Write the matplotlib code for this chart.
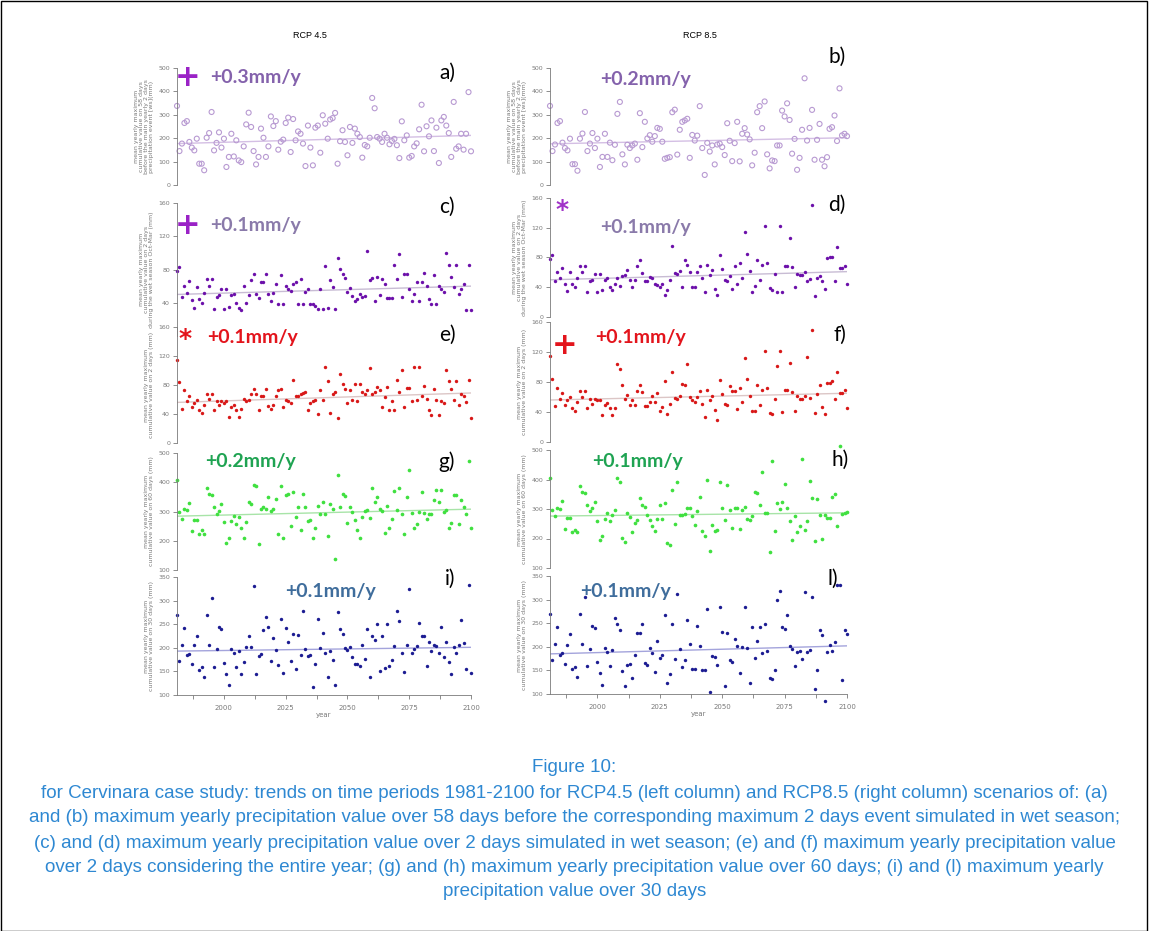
import numpy as np
import matplotlib.pyplot as plt
from matplotlib.patches import Rectangle

# years 1981-2100
years = np.arange(1981, 2101)

# a) RCP4.5 - 58 days before the 2-day maximum
val_a = [338, 145, 177, 265, 273, 184, 160, 148, 198, 91,
         91, 63, 202, 222, 312, 148, 180, 225, 160, 198,
         77, 120, 219, 122, 191, 105, 98, 165, 259, 309,
         248, 145, 88, 120, 241, 202, 120, 165, 293, 252,
         273, 151, 185, 194, 265, 288, 141, 282, 191, 229,
         219, 177, 81, 254, 160, 84, 245, 254, 138, 298,
         262, 198, 280, 286, 308, 91, 187, 234, 184, 127,
         248, 180, 241, 219, 205, 117, 171, 165, 202, 372,
         328, 205, 198, 184, 219, 202, 174, 188, 197, 170,
         115, 272, 191, 212, 117, 124, 165, 178, 238, 343,
         144, 251, 208, 276, 145, 245, 94, 276, 291, 254,
         222, 120, 355, 155, 165, 219, 151, 219, 397, 144]
# b) RCP8.5 - 58 days
val_b = [338, 145, 173, 265, 273, 181, 158, 148, 198, 89,
         89, 61, 198, 220, 312, 145, 177, 222, 158, 198,
         77, 120, 219, 120, 181, 106, 172, 304, 355, 131,
         88, 172, 158, 169, 177, 108, 307, 162, 270, 199,
         213, 185, 209, 244, 240, 185, 112, 116, 119, 311,
         322, 130, 236, 270, 276, 283, 116, 214, 190, 211,
         337, 158, 43, 180, 143, 169, 88, 173, 177, 162,
         128, 264, 189, 102, 179, 270, 101, 219, 243, 216,
         195, 84, 138, 311, 337, 243, 357, 131, 71, 105,
         102, 169, 169, 318, 293, 349, 278, 134, 197, 65,
         116, 236, 456, 190, 244, 321, 108, 193, 261, 108,
         80, 119, 240, 247, 297, 188, 413, 212, 219, 209]
# c) RCP4.5 - 2 days, wet season
val_c = [78, 83, 47, 60, 52, 66, 43, 34, 59, 45,
         40, 52, 68, 60, 68, 33, 47, 49, 56, 33,
         56, 35, 49, 51, 40, 34, 31, 60, 40, 49,
         67, 74, 51, 46, 65, 65, 74, 50, 42, 52,
         63, 38, 73, 38, 60, 56, 54, 63, 65, 38,
         69, 38, 53, 57, 38, 38, 36, 33, 57, 33,
         84, 34, 67, 59, 32, 94, 81, 74, 70, 53,
         58, 48, 42, 45, 50, 47, 48, 102, 67, 70,
         42, 71, 49, 68, 62, 46, 46, 46, 86, 69,
         99, 47, 74, 74, 56, 42, 51, 65, 42, 65,
         76, 60, 45, 38, 73, 38, 60, 56, 53, 100,
         85, 71, 59, 85, 51, 56, 62, 31, 86, 31]
# d) RCP8.5 - 2 days, wet season
val_d = [78, 84, 48, 61, 53, 66, 44, 35, 61, 45,
         41, 53, 69, 61, 68, 33, 49, 50, 58, 33,
         58, 36, 50, 52, 41, 36, 45, 52, 42, 55,
         57, 63, 50, 41, 50, 69, 76, 59, 49, 49,
         54, 53, 45, 43, 41, 45, 29, 36, 50, 95,
         59, 58, 62, 40, 76, 70, 61, 41, 40, 61,
         68, 52, 34, 70, 57, 63, 37, 30, 84, 65,
         50, 49, 55, 38, 68, 44, 72, 52, 114, 85,
         62, 33, 42, 76, 50, 70, 122, 72, 39, 36,
         58, 34, 122, 33, 69, 69, 106, 67, 41, 58,
         57, 57, 61, 48, 51, 151, 28, 52, 55, 48,
         37, 79, 80, 81, 49, 94, 66, 66, 69, 45]
# e) RCP4.5 - 2 days, entire year
val_e = [115, 84, 47, 73, 58, 65, 49, 55, 60, 45,
         42, 53, 68, 61, 68, 46, 58, 52, 58, 55,
         58, 36, 50, 53, 46, 36, 47, 61, 58, 59,
         68, 75, 67, 46, 65, 65, 74, 51, 47, 53,
         65, 73, 75, 49, 60, 58, 55, 87, 65, 65,
         67, 69, 71, 45, 55, 58, 59, 40, 73, 59,
         105, 85, 42, 68, 71, 34, 95, 82, 75, 55,
         73, 60, 82, 58, 82, 70, 68, 73, 103, 68,
         71, 77, 73, 50, 64, 77, 46, 58, 46, 87,
         70, 101, 49, 76, 76, 58, 105, 59, 105, 65,
         78, 61, 45, 38, 75, 60, 38, 58, 55, 101,
         86, 74, 60, 85, 53, 68, 65, 56, 87, 34]
# f) RCP8.5 - 2 days, entire year
val_f = [115, 84, 48, 72, 58, 65, 49, 56, 60, 46,
         41, 53, 68, 60, 68, 46, 58, 51, 57, 56,
         56, 36, 49, 52, 46, 36, 45, 104, 98, 76,
         57, 63, 50, 56, 49, 68, 76, 67, 48, 48,
         53, 62, 53, 65, 41, 47, 81, 38, 51, 93,
         59, 58, 62, 77, 76, 104, 60, 56, 53, 60,
         68, 51, 33, 70, 56, 62, 43, 30, 83, 64,
         51, 49, 75, 68, 68, 44, 72, 53, 112, 84,
         62, 42, 41, 76, 49, 70, 121, 72, 39, 37,
         57, 101, 121, 40, 70, 69, 105, 67, 41, 62,
         57, 57, 61, 114, 59, 149, 39, 64, 76, 47,
         38, 79, 79, 81, 57, 93, 65, 65, 69, 46]
# g) RCP4.5 - 60 days
val_g = [407, 299, 274, 308, 305, 330, 233, 270, 270, 222,
         236, 223, 382, 361, 356, 314, 291, 302, 325, 263,
         194, 211, 267, 285, 257, 280, 244, 211, 263, 333,
         327, 390, 386, 188, 310, 314, 308, 348, 302, 310,
         344, 223, 386, 211, 358, 359, 250, 367, 280, 316,
         236, 361, 316, 267, 270, 208, 244, 318, 293, 333,
         293, 216, 325, 310, 137, 424, 314, 361, 352, 259,
         314, 297, 270, 236, 211, 280, 301, 305, 278, 382,
         333, 350, 310, 301, 227, 318, 245, 276, 370, 305,
         382, 291, 223, 348, 443, 295, 244, 257, 299, 367,
         295, 276, 291, 291, 339, 375, 333, 375, 299, 305,
         244, 261, 358, 356, 257, 339, 316, 293, 473, 244]
# h) RCP8.5 - 60 days
val_h = [404, 297, 275, 305, 301, 328, 232, 271, 271, 222,
         230, 222, 379, 359, 354, 312, 292, 303, 325, 261,
         194, 210, 266, 288, 260, 278, 295, 404, 390, 201,
         188, 288, 272, 221, 252, 263, 337, 314, 308, 280,
         263, 241, 224, 267, 314, 267, 322, 185, 177, 365,
         250, 393, 280, 280, 284, 303, 305, 277, 246, 292,
         340, 227, 209, 399, 159, 246, 227, 230, 390, 303,
         263, 382, 297, 235, 303, 305, 233, 297, 308, 267,
         263, 275, 356, 354, 314, 427, 286, 286, 153, 464,
         227, 322, 301, 323, 385, 305, 260, 196, 275, 222,
         243, 470, 230, 258, 396, 337, 192, 334, 280, 198,
         280, 269, 269, 342, 351, 243, 515, 284, 286, 290]
# i) RCP4.5 - 30 days
val_i = [270, 171, 205, 243, 185, 187, 165, 205, 226, 153,
         159, 138, 270, 206, 305, 160, 197, 245, 240, 167,
         145, 121, 198, 190, 160, 194, 145, 169, 201, 226,
         201, 330, 144, 183, 187, 238, 266, 244, 171, 220,
         196, 164, 261, 147, 243, 212, 173, 229, 155, 227,
         185, 277, 197, 183, 184, 116, 165, 261, 199, 232,
         189, 139, 194, 174, 121, 275, 240, 230, 199, 196,
         201, 180, 166, 166, 162, 206, 176, 240, 138, 226,
         217, 251, 150, 225, 158, 250, 162, 174, 204, 279,
         256, 190, 148, 205, 325, 190, 198, 204, 252, 224,
         224, 162, 213, 194, 206, 203, 190, 244, 181, 212,
         169, 145, 201, 189, 206, 258, 210, 155, 334, 147]
# l) RCP8.5 - 30 days
val_l = [270, 171, 206, 243, 183, 187, 163, 204, 227, 154,
         158, 137, 270, 206, 305, 160, 196, 245, 239, 167,
         144, 120, 197, 189, 160, 194, 261, 248, 236, 148,
         118, 162, 164, 134, 183, 229, 229, 249, 165, 161,
         197, 187, 146, 213, 176, 183, 268, 123, 142, 248,
         174, 312, 195, 158, 171, 257, 206, 154, 154, 244,
         202, 150, 150, 280, 104, 181, 178, 161, 284, 231,
         118, 229, 171, 167, 217, 202, 144, 199, 284, 197,
         123, 243, 177, 213, 243, 187, 249, 192, 134, 132,
         151, 299, 319, 241, 238, 268, 202, 195, 160, 190,
         192, 175, 316, 190, 194, 306, 111, 151, 236, 225,
         85, 188, 204, 192, 211, 331, 331, 130, 236, 227]

# trend line values at 1981 and 2100
trend_years = [1981, 2100]
trend_a = [177, 212]
trend_b = [176, 202]
trend_c = [50, 60]
trend_d = [50, 61]
trend_e = [56, 69]
trend_f = [56, 65]
trend_g = [284, 308]
trend_h = [276, 287]
trend_i = [193, 201]
trend_l = [185, 202]

rates = ["+0.3mm/y", "+0.2mm/y", "+0.1mm/y", "+0.1mm/y", "+0.1mm/y",
         "+0.1mm/y", "+0.2mm/y", "+0.1mm/y", "+0.1mm/y", "+0.1mm/y"]
letters = ["a)", "b)", "c)", "d)", "e)", "f)", "g)", "h)", "i)", "l)"]
signif = ["+", "", "+", "*", "*", "+", "", "", "", ""]

ylab_58 = "mean yearly maximum\ncumulative value on 58 days\nbefore the main yearly 2 days\nprecipitation event [ws](mm)"
ylab_wet = "mean yearly maximum\ncumulative value on 2 days\nduring the wet season Oct-Mar (mm)"
ylab_2 = "mean yearly maximum\ncumulative value on 2 days (mm)"
ylab_60 = "mean yearly maximum\ncumulative value on 60 days (mm)"
ylab_30 = "mean yearly maximum\ncumulative value on 30 days (mm)"

caption = [
    "Figure 10:",
    "for Cervinara case study: trends on time periods 1981-2100 for RCP4.5 (left column) and RCP8.5 (right column) scenarios of: (a)",
    "and (b) maximum yearly precipitation value over 58 days before the corresponding maximum 2 days event simulated in wet season;",
    "(c) and (d) maximum yearly precipitation value over 2 days simulated in wet season; (e) and (f) maximum yearly precipitation value",
    "over 2 days considering the entire year; (g) and (h) maximum yearly precipitation value over 60 days; (i) and (l) maximum yearly",
    "precipitation value over 30 days",
]

W, H = 1149, 931
fig = plt.figure(figsize=(W / 100, H / 100), dpi=100)


def fx(x):
    return x / W


def fy(y):
    return 1 - y / H


# marker styles per row
open_purple = dict(marker='o', s=13, facecolors='none', edgecolors='#b89ad2', linewidths=0.8)
dot_purple = dict(marker='o', s=6, color='#6c10aa', linewidths=0)
dot_red = dict(marker='o', s=6, color='#d81818', linewidths=0)
dot_green = dict(marker='o', s=7, color='#40e040', linewidths=0)
dot_blue = dict(marker='o', s=6, color='#1c1c92', linewidths=0)

# value, trend, (x0, x1, ytop, ybottom) in pixels, ylim, yticks, style, trend colour, ylabel
panels = [
    (val_a, trend_a, (177, 471, 68, 185), (0, 500), [0, 100, 200, 300, 400, 500], open_purple, '#d4bfe4', ylab_58),
    (val_b, trend_b, (550, 847, 68, 185), (0, 500), [0, 100, 200, 300, 400, 500], open_purple, '#d4bfe4', ylab_58),
    (val_c, trend_c, (177, 471, 203, 336), (0, 160), [40, 80, 120, 160], dot_purple, '#c8bcd4', ylab_wet),
    (val_d, trend_d, (550, 847, 198, 317), (0, 160), [0, 40, 80, 120, 160], dot_purple, '#c8bcd4', ylab_wet),
    (val_e, trend_e, (177, 471, 327, 443), (0, 160), [0, 40, 80, 120, 160], dot_red, '#dcc6c6', ylab_2),
    (val_f, trend_f, (550, 847, 322, 442), (0, 160), [0, 40, 80, 120, 160], dot_red, '#dcc6c6', ylab_2),
    (val_g, trend_g, (177, 471, 453, 570), (100, 500), [100, 200, 300, 400, 500], dot_green, '#a8e4a8', ylab_60),
    (val_h, trend_h, (550, 847, 450, 568), (100, 500), [100, 200, 300, 400, 500], dot_green, '#a8e4a8', ylab_60),
    (val_i, trend_i, (177, 471, 577, 695), (100, 350), [100, 150, 200, 250, 300, 350], dot_blue, '#a4a4dc', ylab_30),
    (val_l, trend_l, (550, 847, 576, 694), (100, 350), [100, 150, 200, 250, 300, 350], dot_blue, '#a4a4dc', ylab_30),
]

gray = '#7a7a7a'
for k, (vals, trend, (x0, x1, yt, yb), ylim, yticks, style, tcol, ylab) in enumerate(panels):
    ax = fig.add_axes([fx(x0), fy(yb), fx(x1 - x0), (yb - yt) / H])
    ax.patch.set_alpha(0)
    ax.plot(trend_years, trend, color=tcol, lw=1.0, zorder=1)
    ax.scatter(years, vals, zorder=2, clip_on=False, **style)
    ax.set_xlim(1981, 2100)
    ax.set_ylim(*ylim)
    ax.set_yticks(yticks)
    for s in ['top', 'right']:
        ax.spines[s].set_visible(False)
    ax.spines['left'].set_color(gray)
    ax.spines['left'].set_linewidth(0.6)
    ax.tick_params(axis='y', colors=gray, labelsize=4.5, length=3, width=0.6, pad=2)
    ax.set_ylabel(ylab, fontsize=4.5, color=gray, labelpad=3, linespacing=1.0)
    if k >= 8:
        ax.spines['bottom'].set_color(gray)
        ax.spines['bottom'].set_linewidth(0.6)
        ax.set_xticks([2000, 2025, 2050, 2075, 2100])
        ax.set_xticks([1987.5, 2012.5, 2037.5, 2062.5, 2087.5], minor=True)
        ax.tick_params(axis='x', which='both', colors=gray, labelsize=5, length=3, width=0.6, pad=4)
        ax.set_xlabel("year", fontsize=5, color=gray, labelpad=1)
    else:
        ax.spines['bottom'].set_visible(False)
        ax.set_xticks([])

# column titles
fig.text(fx(310), fy(35), "RCP 4.5", fontsize=6.5, ha='center', va='center', family='Liberation Sans')
fig.text(fx(700), fy(35), "RCP 8.5", fontsize=6.5, ha='center', va='center', family='Liberation Sans')

# panel letters
letter_pos = [(447, 73), (837, 57), (447, 207), (837, 205), (447, 335),
              (840, 335), (447, 462), (840, 460), (450, 579), (833, 579)]
for t, (x, y) in zip(letters, letter_pos):
    fig.text(fx(x), fy(y), t, fontsize=15, ha='center', va='center', family='Lato')

# trend values
rate_pos = [(210, 77), (600, 80), (210, 225), (600, 228), (207, 337),
            (595, 338), (205, 462), (592, 462), (285, 592), (580, 592)]
rate_col = ['#8462ac', '#8462ac', '#8a7aaa', '#8a7aaa', '#e3141c',
            '#e3141c', '#1fa352', '#1fa352', '#3f6d9c', '#3f6d9c']
for t, (x, y), c in zip(rates, rate_pos, rate_col):
    fig.text(fx(x), fy(y), t, fontsize=14, ha='left', va='center', color=c,
             family='Lato', weight='bold')

# significance signs
sign_pos = [(188, 77), None, (188, 225), (562, 210), (185, 339), (565, 345), None, None, None, None]
sign_col = ['#9a22c6', None, '#9a22c6', '#a032c8', '#e3141c', '#e3141c', None, None, None, None]
for t, p, c in zip(signif, sign_pos, sign_col):
    if t:
        size = 22 if t == '+' else 18
        fig.text(fx(p[0]), fy(p[1]), t, fontsize=size, ha='center', va='center',
                 color=c, family='DejaVu Sans', weight='bold')

# caption
cap_y = [767, 793, 818, 843, 868, 892]
for line, y in zip(caption, cap_y):
    fig.text(0.5, fy(y), line, fontsize=13.5, ha='center', va='center',
             color='#2e88d2', family='Liberation Sans')

# outer frame
fig.patches.append(Rectangle((0.0005, 0.0005), 0.998, 0.998, transform=fig.transFigure,
                             fill=False, edgecolor='black', lw=1.0))

fig.savefig("out.png", dpi=100)
